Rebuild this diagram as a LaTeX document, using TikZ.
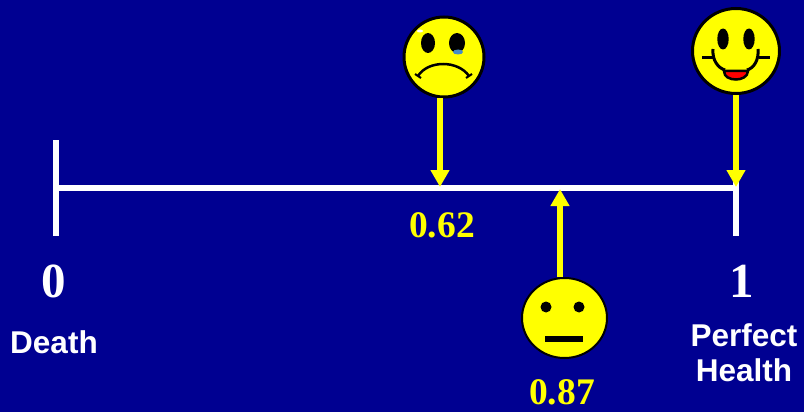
\documentclass[tikz,border=0pt]{standalone}
\usepackage{fontspec}
\setmainfont{Liberation Serif}
\newfontfamily\labelfont{Liberation Sans}
\usetikzlibrary{arrows.meta,shapes.geometric}
\definecolor{slideblue}{RGB}{0,0,145}
\definecolor{faceyellow}{RGB}{255,255,0}
\definecolor{tearblue}{RGB}{70,140,200}
\tikzset{
    scale line/.style={draw=white,line width=6.5pt},
    pointer/.style={draw=faceyellow,line width=6.5pt,-{Triangle[length=17pt,width=18pt]}},
    face/.style={ellipse,draw=black,fill=faceyellow,inner sep=0pt,line width=3pt},
    number/.style={font=\fontsize{49}{49}\selectfont\bfseries,text=white,inner sep=0pt},
    score/.style={font=\fontsize{37.5}{37.5}\selectfont\bfseries,text=faceyellow,inner sep=0pt},
    caption/.style={font=\labelfont\fontsize{31.5}{35}\selectfont\bfseries,text=white,inner sep=0pt,align=center}
}
\begin{document}
\begin{tikzpicture}[x=1pt,y=-1pt]
    \path[fill=slideblue,use as bounding box] (0,0) rectangle (804,412);
    % the scale
    \coordinate (deadtop) at (56,140);
    \coordinate (deadfoot) at (56,236);
    \coordinate (perfecttop) at (736,140);
    \coordinate (perfectfoot) at (736,236);
    \coordinate (deadmid) at (56,188);
    \coordinate (perfectmid) at (736,188);
    \coordinate (sadmark) at (440,187);
    \coordinate (plainmark) at (560,189);
    \coordinate (happymark) at (736,187);
    \draw[scale line] (deadtop)--(deadfoot);
    \draw[scale line] (perfecttop)--(perfectfoot);
    \draw[scale line] (deadmid)--(perfectmid);
    % sad face
    \node[face,minimum width=80pt,minimum height=80pt] (sadface) at (444,57) {};
    \foreach \x/\r in {428/7,457/8}
    {
        \path[fill=black] (\x,43) ellipse [x radius=\r,y radius=10];
    }
    \path[fill=tearblue] (458,52) ellipse [x radius=5,y radius=2.5];
    \path[fill=white] (420,31) ellipse [x radius=3,y radius=1.5];
    \draw[line width=2.5pt] (418,76) .. controls (428,60) and (458,60) .. (469,76);
    \draw[line width=2pt] (415,74)--(421,78);
    \draw[line width=2pt] (472,74)--(466,78);
    % happy face
    \node[face,minimum width=87pt,minimum height=85pt] (happyface) at (736,51) {};
    \foreach \x in {723,749}
    {
        \path[fill=black] (\x,39) ellipse [x radius=5.7,y radius=10.5];
    }
    \path[fill=red,draw=black,line width=2.5pt] (724,71) -- (748,71) .. controls (748,77) and (741,79.5) .. (736,79.5) .. controls (730,79.5) and (724,77) .. (724,71) -- cycle;
    \draw[line width=3pt] (702,58)--(713,58);
    \draw[line width=3pt] (759,58)--(770,58);
    \draw[line width=3pt] (713,49) .. controls (712,60) and (718,68) .. (725,70);
    \draw[line width=3pt] (758,49) .. controls (759,60) and (754,68) .. (747,70);
    % plain face
    \node[face,line width=2pt,minimum width=85pt,minimum height=80pt] (plainface) at (564.5,318) {};
    \foreach \x in {546,579}
    {
        \path[fill=black] (\x,307) circle (5.5);
    }
    \path[fill=black] (545,336) rectangle (583,342);
    % pointers
    \draw[pointer] (sadmark |- sadface.south) -- (sadmark);
    \draw[pointer] (happymark |- happyface.south) -- (happymark);
    \draw[pointer] (plainmark |- plainface.north) -- (plainmark);
    % labels
    \node[number] (zero) at (54,281) {0};
    \node[number] (one) at (742,281) {1};
    \node[score] (sadscore) at (442,225) {0.62};
    \node[score] (plainscore) at (562,392) {0.87};
    \node[caption] (death) at (54,342) {Death};
    \node[caption] (health) at (744,353) {Perfect\\Health};
\end{tikzpicture}
\end{document}
